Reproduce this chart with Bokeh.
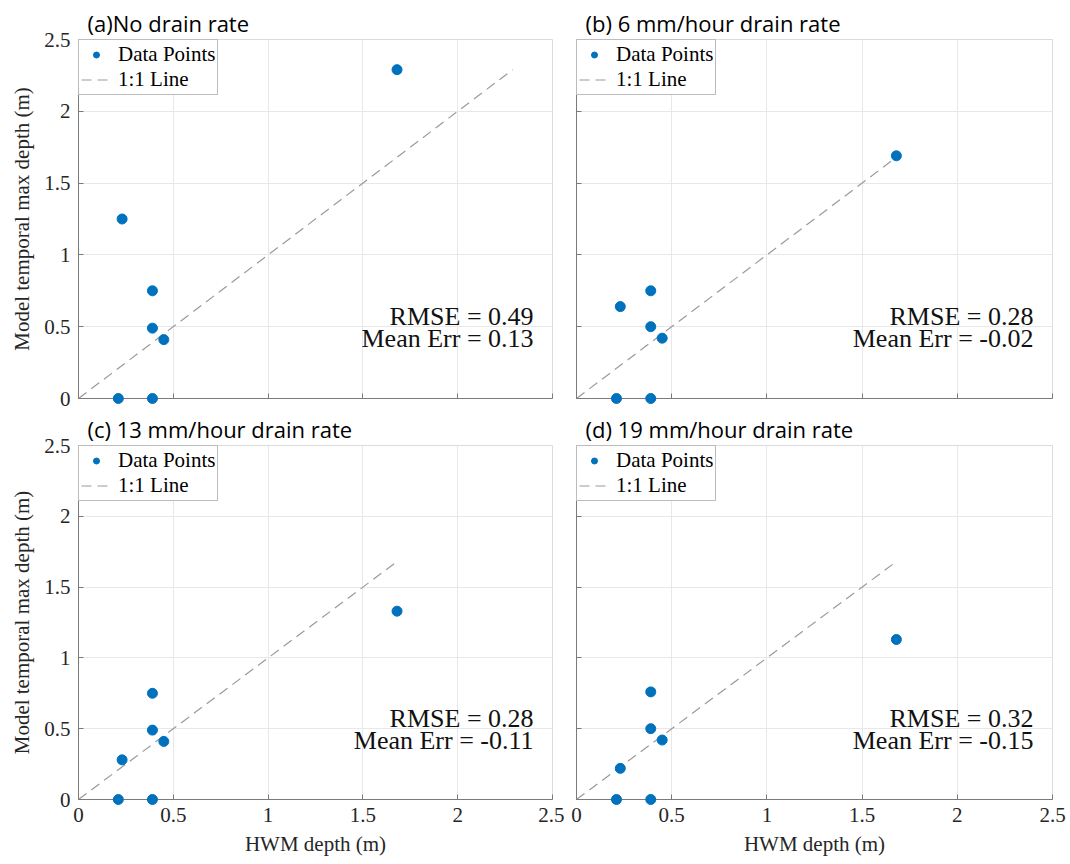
from bokeh.plotting import figure
from bokeh.layouts import column, row
from bokeh.models import FixedTicker, Label, Legend, LegendItem, Title, Range1d
from bokeh.embed import file_html
from bokeh.resources import INLINE

# ---- data ----
hwm = [0.21, 0.23, 0.39, 0.39, 0.39, 0.45, 1.68]
model_a = [0.00, 1.25, 0.00, 0.75, 0.49, 0.41, 2.29]
model_b = [0.00, 0.64, 0.00, 0.75, 0.50, 0.42, 1.69]
model_c = [0.00, 0.28, 0.00, 0.75, 0.49, 0.41, 1.33]
model_d = [0.00, 0.22, 0.00, 0.76, 0.50, 0.42, 1.13]
titles = ["(a)No drain rate", "(b) 6 mm/hour drain rate",
          "(c) 13 mm/hour drain rate", "(d) 19 mm/hour drain rate"]
rmse = ["0.49", "0.28", "0.28", "0.32"]
mean_err = ["0.13", "-0.02", "-0.11", "-0.15"]
ticks = [0, 0.5, 1, 1.5, 2, 2.5]
tick_labels = ["0", "0.5", "1", "1.5", "2", "2.5"]

SERIF = "Liberation Serif"
SANS = "Open Sans"
BLUE = "#0072BD"
AX = "#7a7a7a"


def make_panel(title, model, rm, me, width, height, mbl, mbr, mbt, mbb,
               show_xlab, show_ylab):
    p = figure(width=width, height=height, output_backend="svg",
               toolbar_location=None, x_range=Range1d(0, 2.5),
               y_range=Range1d(0, 2.5), min_border_left=mbl,
               min_border_right=mbr, min_border_top=mbt,
               min_border_bottom=mbb)
    p.title = Title(text=title, align="left", offset=9, text_font=SANS,
                    text_font_size="22px", text_font_style="normal",
                    text_color="#000000", standoff=3)
    p.outline_line_color = "#dcdcdc"
    p.background_fill_color = "white"
    p.border_fill_color = "white"
    shown = {t: l for t, l in zip(ticks, tick_labels)}
    hidden = {t: "" for t in ticks}
    for ax in (p.xaxis[0], p.yaxis[0]):
        ax.ticker = FixedTicker(ticks=ticks)
        ax.major_label_overrides = shown
        ax.axis_line_color = AX
        ax.major_tick_line_color = AX
        ax.major_tick_in = 5
        ax.major_tick_out = 0
        ax.minor_tick_line_color = None
        ax.major_label_text_font = SERIF
        ax.major_label_text_font_size = "21px"
        ax.major_label_text_color = "#262626"
        ax.axis_label_text_font = SERIF
        ax.axis_label_text_font_size = "21px"
        ax.axis_label_text_font_style = "normal"
        ax.axis_label_text_color = "#262626"
        ax.major_label_standoff = 8
        ax.axis_label_standoff = 7
    if show_xlab:
        p.xaxis.axis_label = "HWM depth (m)"
    else:
        p.xaxis.major_label_overrides = hidden
        p.xaxis.major_label_text_font_size = "1px"
        p.xaxis.major_label_standoff = 0
    if show_ylab:
        p.yaxis.axis_label = "Model temporal max depth (m)"
    else:
        p.yaxis.major_label_overrides = hidden
        p.yaxis.major_label_text_font_size = "1px"
        p.yaxis.major_label_standoff = 0
    p.grid.ticker = FixedTicker(ticks=ticks)
    p.grid.grid_line_color = "#e8e8e8"
    p.grid.grid_line_width = 1

    top = max(max(hwm), max(model))
    ln = p.line([0, top], [0, top], line_color="#9a9a9a", line_width=1.2,
                line_dash="10 6")
    sc = p.scatter(hwm, model, size=10, fill_color=BLUE, line_color=BLUE,
                   level="overlay")

    p.add_layout(Label(x=2.4, y=0.57, text="RMSE = " + rm,
                       text_align="right", text_baseline="alphabetic",
                       text_font=SERIF, text_font_size="26px",
                       text_color="#111111"))
    p.add_layout(Label(x=2.4, y=0.415, text="Mean Err = " + me,
                       text_align="right", text_baseline="alphabetic",
                       text_font=SERIF, text_font_size="26px",
                       text_color="#111111"))

    leg = Legend(items=[LegendItem(label="Data Points", renderers=[sc]),
                        LegendItem(label="1:1 Line", renderers=[ln])],
                 location="top_left", margin=0, padding=2, spacing=0,
                 glyph_width=30, glyph_height=15, label_height=25,
                 label_standoff=7, border_line_color="#7a7a7a",
                 border_line_width=1, background_fill_color="white",
                 background_fill_alpha=1.0, label_text_font=SERIF,
                 label_text_font_size="21px", label_text_color="#000000")
    p.add_layout(leg)
    return p


p1 = make_panel(titles[0], model_a, rmse[0], mean_err[0], 564, 410, 78, 12, 39, 12, False, True)
p2 = make_panel(titles[1], model_b, rmse[1], mean_err[1], 506, 410, 12, 18, 39, 12, False, False)
p3 = make_panel(titles[2], model_c, rmse[2], mean_err[2], 564, 454, 78, 12, 30, 65, True, True)
p4 = make_panel(titles[3], model_d, rmse[3], mean_err[3], 506, 454, 12, 18, 30, 65, True, False)

layout = column(row(p1, p2), row(p3, p4))
open("out.html", "w").write(file_html(layout, INLINE))
